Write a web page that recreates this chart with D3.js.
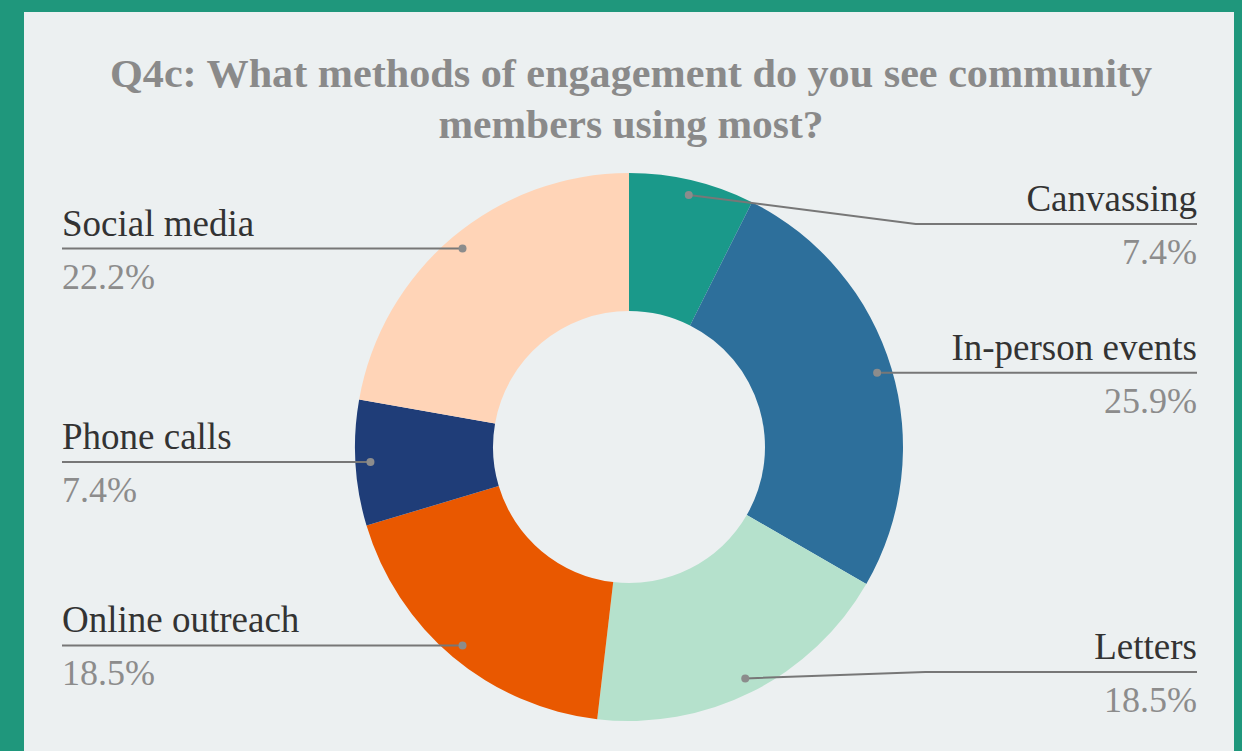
<!DOCTYPE html>
<html><head><meta charset="utf-8">
<script src="https://cdn.jsdelivr.net/npm/d3@7"></script>
<style>html,body{margin:0;padding:0;background:#1f977c;}svg{display:block;}</style>
</head><body>
<svg id="chart" width="1242" height="751"></svg>
<script>
const categories = ["Canvassing","In-person events","Letters","Online outreach","Phone calls","Social media"];
const counts = [2, 7, 5, 5, 2, 6];
const percentLabels = ["7.4%","25.9%","18.5%","18.5%","7.4%","22.2%"];
const colors = ["#1a998a","#2d6f9b","#b5e1cc","#e95800","#1f3d78","#ffd4b7"];
const titleLines = ["Q4c: What methods of engagement do you see community","members using most?"];
// label underline y positions (layout)
const labelLineY = [224, 373, 672, 646, 462, 248];

const W = 1242, H = 751;
const svg = d3.select("#chart");
svg.append("rect").attr("x",0).attr("y",0).attr("width",W).attr("height",H).attr("fill","#1f977c");
svg.append("rect").attr("x",24).attr("y",12).attr("width",1210).attr("height",H-12).attr("fill","#ecf0f1");

const serif = "'Liberation Serif','Times New Roman',serif";
const titleWidths = [1042, 385];
svg.selectAll("text.title").data(titleLines).join("text")
  .attr("class","title")
  .attr("x",631).attr("y",(d,i)=>87+i*51)
  .attr("text-anchor","middle")
  .attr("font-family",serif).attr("font-weight","bold").attr("font-size",39)
  .attr("textLength",(d,i)=>titleWidths[i]).attr("lengthAdjust","spacingAndGlyphs")
  .attr("fill","#8a8a8a").text(d=>d);

const cx = 629, cy = 447, R = 274, r0 = 136;
const g = svg.append("g").attr("transform",`translate(${cx},${cy})`);
const pie = d3.pie().sort(null).value(d=>d)(counts);
const arc = d3.arc().innerRadius(r0).outerRadius(R);
g.selectAll("path").data(pie).join("path")
  .attr("d",arc).attr("fill",(d,i)=>colors[i]);

const dotArc = d3.arc().innerRadius(259).outerRadius(259);
const leftX = 62, rightX = 1197;
pie.forEach((d,i)=>{
  const c = dotArc.centroid(d);
  const px = cx + c[0], py = cy + c[1];
  const right = c[0] > 0;
  const ly = labelLineY[i];
  const endX = right ? rightX : leftX;
  let pts;
  if (Math.abs(ly - py) > 2) {
    const elbowX = right ? (Math.abs(ly-py)>20 ? px + 227 : px + 180) : px - 30;
    pts = [[px,py],[elbowX,ly],[endX,ly]];
  } else {
    pts = [[px,py],[endX,py]];
  }
  svg.append("path").attr("d",d3.line()(pts))
    .attr("fill","none").attr("stroke","#777").attr("stroke-width",2);
  svg.append("circle").attr("cx",px).attr("cy",py).attr("r",4).attr("fill","#8c8c8c");
  const lineY = pts[pts.length-1][1];
  svg.append("text").attr("x",endX).attr("y",lineY-13)
    .attr("text-anchor", right ? "end" : "start")
    .attr("font-family",serif).attr("font-size",37).attr("fill","#333")
    .text(categories[i]);
  svg.append("text").attr("x",endX).attr("y",lineY+40)
    .attr("text-anchor", right ? "end" : "start")
    .attr("font-family",serif).attr("font-size",36).attr("fill","#8c8c8c")
    .text(percentLabels[i]);
});
</script>
</body></html>
